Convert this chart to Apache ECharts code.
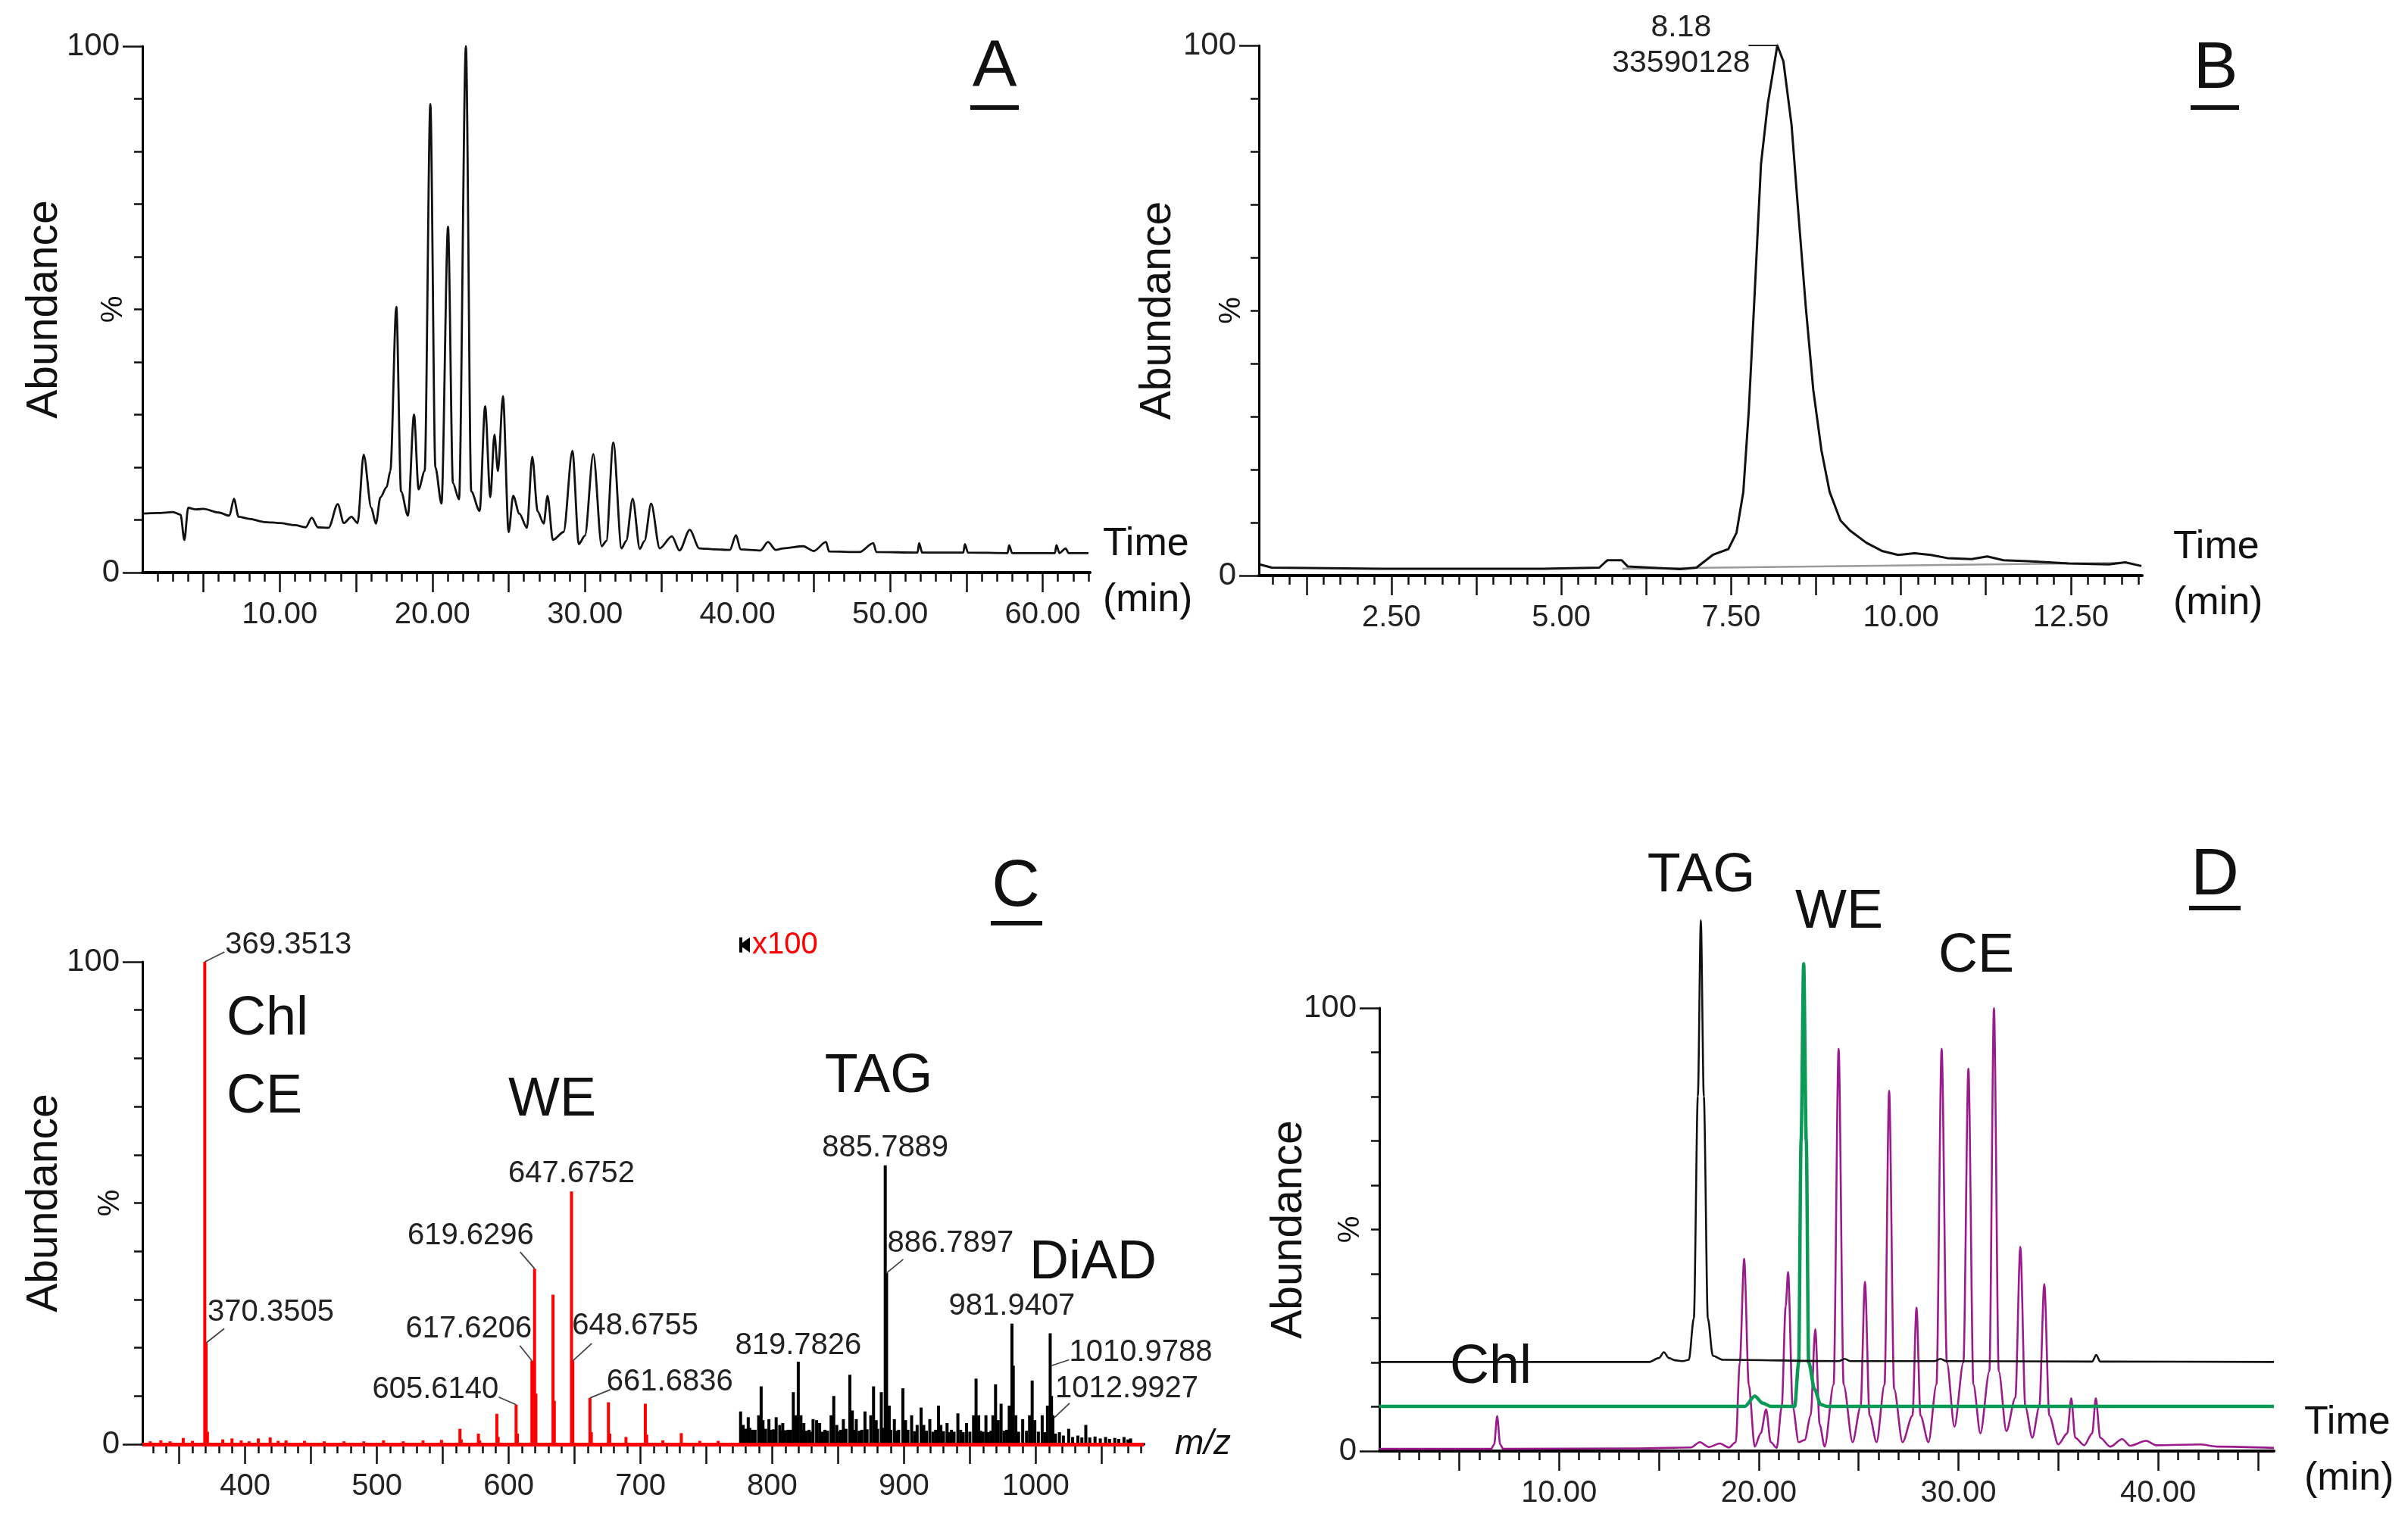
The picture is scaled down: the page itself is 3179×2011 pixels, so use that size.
<!DOCTYPE html>
<html>
<head>
<meta charset="utf-8">
<script src="https://cdn.jsdelivr.net/npm/echarts@6/dist/echarts.min.js"></script>
<style>
html, body { margin: 0; padding: 0; background: #fff; }
#main { width: 3179px; height: 2011px; }
</style>
</head>
<body>
<div id="main"></div>
<script>
// ---- panel A: TIC chromatogram (time min, % abundance)
const A_TRACE = [
  [1.0,11.2],[2.0,11.3],[3.0,11.5],[3.5,11.0],[3.75,6.2],[4.0,12.3],[4.5,12.0],[5.0,12.1],[6.0,11.4],
  [6.7,10.8],[7.0,14.0],[7.3,10.6],[8.0,10.2],[9.0,9.6],[10.0,9.4],[11.0,9.0],[11.7,8.6],[12.1,10.4],
  [12.5,8.6],[13.2,8.5],[13.8,13.0],[14.2,9.4],[14.7,10.6],[15.1,9.4],[15.5,22.4],[16.0,12.3],[16.3,9.3],
  [16.6,14.3],[17.0,16.2],[17.25,19.3],[17.64,50.5],[17.95,15.4],[18.4,10.8],[18.8,30],[19.1,15.8],
  [19.5,19.3],[19.87,89],[20.2,20],[20.6,13.1],[21.03,65.7],[21.35,17],[21.75,13.9],[22.2,100],[22.55,15.4],
  [23.1,11.7],[23.46,31.6],[23.8,14.3],[24.07,26.2],[24.3,19.3],[24.63,33.5],[25.0,7.7],[25.3,14.6],
  [25.7,11.2],[26.2,8.5],[26.55,22],[26.9,11.6],[27.3,9.3],[27.55,14.6],[27.9,6.2],[28.6,7.7],
  [29.18,23.1],[29.6,5.4],[30.0,7],[30.55,22.5],[31.1,5],[31.4,6],[31.86,24.7],[32.4,4.6],[32.7,6],
  [33.13,14],[33.6,4.5],[33.9,6],[34.34,13.1],[34.9,4.6],[35.7,6.9],[36.2,4.2],[36.87,8.1],[37.5,4.6],
  [38.5,4.4],[39.5,4.3],[39.9,7.1],[40.2,4.4],[41.5,4.2],[42.0,5.8],[42.5,4.3],[43.0,4.6],[44.3,5.0],
  [45.0,4.1],[45.8,5.8],[46.0,4.0],[48.0,3.9],[48.9,5.6],[49.1,3.9],[51.8,3.8],[51.9,5.6],[52.1,3.8],
  [54.8,3.8],[54.9,5.4],[55.1,3.8],[57.7,3.7],[57.8,5.2],[58.0,3.7],[60.8,3.7],[60.9,5.2],[61.1,3.7],
  [61.5,4.6],[61.7,3.7],[63.0,3.7]
];
const A_XLABELS = [10, 20, 30, 40, 50, 60];

// ---- panel B: single peak chromatogram
const B_TRACE = [
  [0.56,2.1],[0.74,1.5],[2.35,1.3],[4.73,1.3],[5.56,1.5],[5.68,2.9],[5.89,2.9],[5.98,1.7],[6.75,1.2],
  [6.99,1.5],[7.23,3.9],[7.46,5.0],[7.58,8.1],[7.68,15.8],[7.76,31],[7.85,54],[7.94,77.6],[8.04,89],
  [8.18,100],[8.27,97],[8.39,85],[8.48,70],[8.6,50.6],[8.71,35],[8.83,23.6],[8.95,15.8],[9.11,10.4],
  [9.25,8.5],[9.49,6.2],[9.73,4.6],[9.96,3.9],[10.2,4.2],[10.44,3.9],[10.68,3.3],[11.04,3.1],[11.27,3.6],
  [11.51,2.9],[11.87,2.7],[12.47,2.3],[13.06,2.1],[13.3,2.5],[13.54,1.8]
];
const B_BASELINE = [[5.9,1.3],[13.2,2.4]];
const B_APEX = [8.18, 100];
const B_APEX_COUNTS = 33590128;
const B_XLABELS = [2.5, 5, 7.5, 10, 12.5];

// ---- panel C: mass spectrum, m/z vs %; above 775 shown x100
const C_RED = [
  [328,0.6],[336,0.8],[343,0.6],[353,1.3],[360,0.7],[369.35,100],[370.35,21],[371.35,2.6],[383,1.0],
  [390,1.2],[397,0.8],[403,0.6],[410,1.2],[419,1.4],[425,0.7],[431,0.8],[445,0.7],[460,0.6],[475,0.6],
  [490,0.6],[505,0.8],[520,0.6],[535,0.8],[549,0.9],[563,3.2],[564,1.0],[577,2.2],[578,0.8],[591,6.3],
  [592,1.5],[605.61,8.2],[606.6,2.2],[617.62,17.3],[619.63,36.4],[620.63,10.5],[633.64,31],[634.64,9],
  [647.68,52.4],[648.68,17.3],[661.68,9.6],[662.7,2.5],[675.7,8.7],[676.7,2.2],[689,1.5],[703.7,8.4],
  [704.7,2.0],[717,0.8],[731,2.3],[745,0.7],[759,0.7]
];
const C_BLACK = [
  [776,6.8],[778,4],[781.8,5.6],[785,3],[789.7,6],[791.6,12],[793,5],[797.5,5.2],[803,5.6],[805.7,4],
  [808,4.4],[812,3],[816,10.8],[817.8,6],[819.78,17.1],[821.8,6],[824,4.4],[831,5.2],[833.7,5],[836,4.4],
  [840,3],[844.7,6],[846.7,10],[849,4],[854,5.2],[858.9,14.4],[860.8,7],[863.8,5.2],[870.4,6.8],
  [874.8,6],[876.9,12],[878.9,5],[882.8,10.8],[885.79,57.8],[886.79,35.5],[888.8,8],[892.7,5.2],
  [899.2,11.6],[901.2,5],[905.8,6],[910,4],[913,7.6],[915,4],[919.6,5.2],[926.2,8],[928,4],[932.7,4.4],
  [936,3],[940.9,6.4],[943,3],[947.5,4.4],[952.8,6],[954.7,13.6],[956.7,6],[962.2,6],[967.5,6],
  [969.5,12.4],[971.5,5],[973.7,8.4],[979.9,8],[981.94,25],[982.94,16.3],[984.9,6],[990.1,5.2],
  [995.3,6],[997.3,13.2],[999.3,5],[1004.9,6],[1008.9,8],[1010.98,23],[1011.98,10],[1012.99,6],
  [1018,2.5],[1025,3.2],[1032,1.8],[1038,4],[1045,1.6],[1053,1.5],[1060,1.3],[1067,1.5],[1072,1.2]
];
// low unresolved signal filling the x100 region
const C_BLACK_FILL = [
  [777,3.5],[780,3.2],[783,3.4],[787,3.0],[795,3.2],[799,3.0],[801,3.1],[807,2.8],[810,2.9],[814,3.0],
  [823,3.0],[826,2.8],[828,3.0],[829,2.6],[838,2.6],[842,2.8],[851,2.7],[852,3.0],[856,3.2],[862,3.0],
  [866,2.8],[868,3.0],[872,3.1],[880,3.2],[884,3.4],[890,3.0],[894,2.8],[896,3.0],[903,3.0],[908,2.7],
  [917,2.8],[922,2.6],[924,3.0],[930,2.7],[934,2.5],[938,2.6],[945,2.5],[950,2.6],[958,2.8],[960,2.6],
  [964,2.5],[966,2.8],[976,2.8],[978,3.0],[987,2.6],[993,2.8],[1002,2.6],[1007,2.5],[1015,2.2],
  [1021,1.8],[1028,1.5],[1035,1.4],[1041,1.4],[1049,1.2],[1056,1.1],[1063,1.1],[1070,1.0]
];
const C_TAG_MZ  = [369.3513, 370.3505, 605.6140, 617.6206, 619.6296, 647.6752, 648.6755, 661.6836,
                   819.7826, 885.7889, 886.7897, 981.9407, 1010.9788, 1012.9927];
const C_TAG_INT = [100, 21, 8.2, 17.3, 36.4, 52.4, 17.3, 9.6, 17.1, 57.8, 35.5, 25, 23, 6];
const C_MAGNIFY_AT = [775, 103.5];
const C_XLABELS = [400, 500, 600, 700, 800, 900, 1000];

// ---- panel D: extracted chromatograms (TAG black, WE green, CE/Chl magenta)
const D_TAG = [
  [1.0,20.1],[14.5,20.1],[15.0,21],[15.25,22.3],[15.5,21],[15.8,20.5],[16.2,20.3],[16.5,20.6],[16.75,30],
  [16.95,80],[17.1,119.8],[17.25,80],[17.45,30],[17.7,21.5],[18.2,20.6],[24.0,20.3],[24.3,20.8],
  [24.6,20.3],[28.8,20.3],[29.1,20.8],[29.4,20.3],[36.7,20.2],[36.9,21.7],[37.1,20.2],[45.8,20.1]
];
const D_WE = [
  [1.0,10.1],[19.3,10.1],[19.8,12.4],[20.2,10.8],[20.6,10.1],[21.8,10.1],[22.0,20],[22.12,70],[22.25,110],
  [22.38,70],[22.5,20],[22.8,13.9],[23.1,10.5],[23.4,10.1],[45.8,10.1]
];
const D_CE = [
  [1.0,0.5],[6.6,0.5],[6.75,1.5],[6.9,7.9],[7.05,1.5],[7.2,0.5],[14.0,0.6],[16.6,0.8],[17.05,2.0],
  [17.5,0.9],[18.05,1.7],[18.5,0.8],[18.85,2],[19.05,20],[19.27,43.4],[19.5,15],[19.8,1],[20.1,4],
  [20.37,9.4],[20.6,2],[20.9,0.7],[21.15,10],[21.35,32.7],[21.47,40.4],[21.7,10],[22.0,2],[22.3,2.5],
  [22.6,8],[22.83,27.5],[23.05,6],[23.3,1],[23.75,15],[24.0,90.8],[24.25,15],[24.7,2],[25.1,10],
  [25.32,38.2],[25.55,8],[25.9,2],[26.3,15],[26.53,81.3],[26.78,14],[27.2,2],[27.7,8],[27.9,32.4],
  [28.1,8],[28.5,2],[28.9,15],[29.16,90.8],[29.42,20],[29.8,5.5],[30.25,20],[30.5,86.3],[30.75,15],
  [31.1,4],[31.55,18],[31.78,100],[32.02,18],[32.4,4.5],[32.85,12],[33.1,46.1],[33.35,10],[33.7,3],
  [34.05,10],[34.3,37.7],[34.55,8],[35.0,1.5],[35.45,4],[35.65,11.9],[35.85,3],[36.3,1.3],[36.7,4],
  [36.88,11.9],[37.1,3],[37.6,1],[38.2,2.7],[38.6,1.2],[39.4,2.3],[39.9,1.3],[42.1,1.5],[43.0,1.0],
  [45.8,0.7]
];
const D_XLABELS = [10, 20, 30, 40];

const Y_LABELS = [0, 100];

function steps(a, b, s) {
  const out = [];
  for (let v = a; v <= b + 1e-9; v += s) out.push(Math.round(v * 1000) / 1000);
  return out;
}

const FONT = 'Liberation Sans, Arial, sans-serif';
const INK = '#111';

// two overlapping x axes per grid: long ticks + labels, and short minor ticks
function xAxes(grid, min, max, major, minor, labels, fmt, name, nameGap, nameStyle) {
  return [
    {
      type: 'value', gridIndex: grid, position: 'bottom', min: min, max: max,
      axisLine: { onZero: false, lineStyle: { color: '#000', width: 4 } },
      axisTick: { customValues: major, length: 26, lineStyle: { color: INK, width: 2.5 } },
      axisLabel: { customValues: labels, formatter: fmt, fontSize: 40, color: '#222', margin: 36, fontFamily: FONT },
      splitLine: { show: false },
      name: name, nameLocation: 'end', nameGap: nameGap, nameMoveOverlap: false,
      nameTextStyle: Object.assign({ fontSize: 52, lineHeight: 74, align: 'left', verticalAlign: 'middle', color: INK, fontFamily: FONT }, nameStyle || {})
    },
    {
      type: 'value', gridIndex: grid, position: 'bottom', min: min, max: max,
      axisLine: { show: false, onZero: false },
      axisTick: { customValues: minor, length: 12, lineStyle: { color: INK, width: 2.5 } },
      axisLabel: { show: false }, splitLine: { show: false }
    }
  ];
}

function yAxes(grid, pctGap, abGap) {
  return [
    {
      type: 'value', gridIndex: grid, position: 'left', min: 0, max: 100,
      axisLine: { onZero: false, lineStyle: { color: '#000', width: 3 } },
      axisTick: { customValues: Y_LABELS, length: 26, lineStyle: { color: INK, width: 2.5 } },
      axisLabel: { customValues: Y_LABELS, fontSize: 42, color: '#222', margin: 30, fontFamily: FONT },
      splitLine: { show: false },
      name: '%', nameLocation: 'middle', nameRotate: 90, nameGap: pctGap, nameMoveOverlap: false,
      nameTextStyle: { fontSize: 40, color: INK, fontFamily: FONT }
    },
    {
      type: 'value', gridIndex: grid, position: 'left', min: 0, max: 100, interval: 10,
      axisLine: { show: false, onZero: false },
      axisTick: { length: 11, lineStyle: { color: INK, width: 2.5 } },
      axisLabel: { show: false }, splitLine: { show: false },
      name: 'Abundance', nameLocation: 'middle', nameRotate: 90, nameGap: abGap, nameMoveOverlap: false,
      nameTextStyle: { fontSize: 57, color: INK, fontFamily: FONT }
    }
  ];
}

const fmt2 = v => v.toFixed(2);
const fmt0 = v => String(Math.round(v));

const xAxisList = [].concat(
  xAxes(0, 1, 63.1, steps(5, 60, 5), steps(2, 63, 1), A_XLABELS, fmt2, 'Time\n(min)', 17),
  xAxes(1, 0.55, 13.55, steps(1.25, 12.5, 1.25), steps(0.75, 13.5, 0.25), B_XLABELS, fmt2, 'Time\n(min)', 41),
  xAxes(2, 322, 1082, steps(350, 1050, 50), steps(330, 1080, 10), C_XLABELS, fmt0, 'm/z', 41, { fontSize: 46, fontStyle: 'italic' }),
  xAxes(3, 1, 45.8, steps(5, 45, 5), steps(2, 45, 1), D_XLABELS, fmt2, 'Time\n(min)', 40)
);
const yAxisList = [].concat(yAxes(0, 18, 100), yAxes(1, 16, 104), yAxes(2, 22, 100), yAxes(3, 18, 90));

function trace(axis, data, color, width, z, smooth) {
  return {
    type: 'line', xAxisIndex: axis, yAxisIndex: axis, data: data, showSymbol: false, symbol: 'none',
    clip: false, silent: true, z: z || 2, smooth: smooth || false, smoothMonotone: 'x',
    lineStyle: { color: color, width: width, join: 'round' }
  };
}
function sticks(data, color, width, z) {
  return {
    type: 'bar', xAxisIndex: 4, yAxisIndex: 4, data: data, barWidth: width, barGap: '-100%',
    itemStyle: { color: color }, silent: true, z: z
  };
}

function letter(ch, x, y, ux0, ux1, uy) {
  return [
    { type: 'text', x: x, y: y, style: { text: ch, fontSize: 88, fontFamily: FONT, fill: INK, align: 'center', verticalAlign: 'middle' } },
    { type: 'rect', shape: { x: ux0, y: uy - 3, width: ux1 - ux0, height: 6 }, style: { fill: INK } }
  ];
}
function bigText(t, x, y, align) {
  return { type: 'text', x: x, y: y, style: { text: t, fontSize: 72, fontFamily: FONT, fill: INK, align: align || 'center', verticalAlign: 'middle' } };
}

const redStick = sticks(C_RED, '#ff0000', 4, 3);
redStick.markLine = {
  silent: true, symbol: 'none', label: { show: false },
  lineStyle: { color: '#ff0000', width: 5, type: 'solid' },
  data: [{ yAxis: 0 }]
};

const option = {
  animation: false,
  backgroundColor: '#fff',
  textStyle: { fontFamily: FONT },
  grid: [
    { left: 188, top: 61, width: 1251, height: 695, containLabel: false, outerBoundsMode: 'none' },
    { left: 1662, top: 60, width: 1166, height: 700, containLabel: false, outerBoundsMode: 'none' },
    { left: 188, top: 1270, width: 1322, height: 637, containLabel: false, outerBoundsMode: 'none' },
    { left: 1821, top: 1331, width: 1181, height: 585, containLabel: false, outerBoundsMode: 'none' }
  ],
  xAxis: xAxisList,
  yAxis: yAxisList,
  series: [
    trace(0, A_TRACE, INK, 2.8, 2, 0.3),
    trace(2, B_TRACE, INK, 3, 2),
    trace(2, B_BASELINE, '#9a9a9a', 2.5, 1),
    redStick,
    sticks(C_BLACK_FILL, '#000', 4, 4),
    sticks(C_BLACK, '#000', 4, 4),
    trace(6, D_CE, '#9b1a8c', 2.6, 2, 0.3),
    trace(6, D_WE, '#0b9a56', 4.5, 3, 0.3),
    trace(6, D_TAG, INK, 2.6, 4, 0.3)
  ],
  graphic: [].concat(
    letter('A', 1313, 90, 1281, 1345, 142),
    letter('B', 2925, 92, 2892, 2956, 142),
    letter('C', 1341, 1172, 1308, 1376, 1219),
    letter('D', 2924, 1157, 2890, 2958, 1199),
    [
      bigText('Chl', 299, 1346, 'left'),
      bigText('CE', 299, 1449, 'left'),
      bigText('WE', 729, 1453),
      bigText('TAG', 1160, 1422),
      bigText('DiAD', 1443, 1668),
      bigText('TAG', 2246, 1157),
      bigText('WE', 2428, 1205),
      bigText('CE', 2609, 1263),
      bigText('Chl', 1968, 1806)
    ]
  )
};

const chart = echarts.init(document.getElementById('main'), null, { renderer: 'canvas' });
chart.setOption(option);

// peak annotations placed through the axes' own scales
const C_TAG_LAYOUT = [
  { dx: 27, dy: -22, align: 'left', leader: [0, 0, 26, -13] },
  { dx: 2, dy: -40, align: 'left', leader: [0, 0, 24, -19] },
  { dx: -23, dy: -20, align: 'right', leader: [0, 0, -23, -10] },
  { dx: 0, dy: -42, align: 'right', leader: [0, 0, -16, -20] },
  { dx: -1, dy: -43, align: 'right', leader: [0, 0, -19, -22] },
  { dx: 0, dy: -23, align: 'center', leader: null },
  { dx: -1, dy: -46, align: 'left', leader: [0, 0, 25, -23] },
  { dx: 22, dy: -21, align: 'left', leader: [0, 0, 27, -11] },
  { dx: 0, dy: -21, align: 'center', leader: null },
  { dx: 0, dy: -23, align: 'center', leader: null },
  { dx: 1, dy: -39, align: 'left', leader: [0, 0, 22, -18] },
  { dx: 0, dy: -23, align: 'center', leader: null },
  { dx: 25, dy: 25, align: 'left', leader: [1, 43, 25, 35] },
  { dx: 3, dy: -35, align: 'left', leader: [2, 3, 22, -16] }
];

const notes = [];
C_TAG_MZ.forEach(function (mz, i) {
  const p = chart.convertToPixel({ xAxisIndex: 4, yAxisIndex: 4 }, [mz, C_TAG_INT[i]]);
  const L = C_TAG_LAYOUT[i];
  notes.push({
    type: 'text', x: p[0] + L.dx, y: p[1] + L.dy, z: 10,
    style: { text: mz.toFixed(4), fontSize: 40, fontFamily: FONT, fill: '#222', align: L.align, verticalAlign: 'middle' }
  });
  if (L.leader) {
    notes.push({
      type: 'line', z: 10,
      shape: { x1: p[0] + L.leader[0], y1: p[1] + L.leader[1], x2: p[0] + L.leader[2], y2: p[1] + L.leader[3] },
      style: { stroke: '#444', lineWidth: 1.8 }
    });
  }
});

const m = chart.convertToPixel({ xAxisIndex: 4, yAxisIndex: 4 }, C_MAGNIFY_AT);
notes.push({ type: 'polygon', z: 10, shape: { points: [[m[0] + 14, m[1] - 10], [m[0] + 14, m[1] + 10], [m[0], m[1]]] }, style: { fill: '#000' } });
notes.push({ type: 'rect', z: 10, shape: { x: m[0], y: m[1] - 10, width: 4, height: 20 }, style: { fill: '#000' } });
notes.push({
  type: 'text', x: m[0] + 17, y: m[1], z: 10,
  style: { text: 'x100', fontSize: 40, fontFamily: FONT, fill: '#ff0000', align: 'left', verticalAlign: 'middle' }
});

const b = chart.convertToPixel({ xAxisIndex: 2, yAxisIndex: 2 }, B_APEX);
notes.push({ type: 'line', z: 10, shape: { x1: b[0] - 38, y1: b[1], x2: b[0], y2: b[1] }, style: { stroke: '#222', lineWidth: 2 } });
notes.push({
  type: 'text', x: b[0] - 127, y: b[1], z: 10,
  style: { text: B_APEX[0].toFixed(2) + '\n' + B_APEX_COUNTS, fontSize: 41, lineHeight: 47, fontFamily: FONT, fill: '#222', align: 'center', verticalAlign: 'middle' }
});

chart.setOption({ graphic: option.graphic.concat(notes) });
</script>
</body>
</html>
